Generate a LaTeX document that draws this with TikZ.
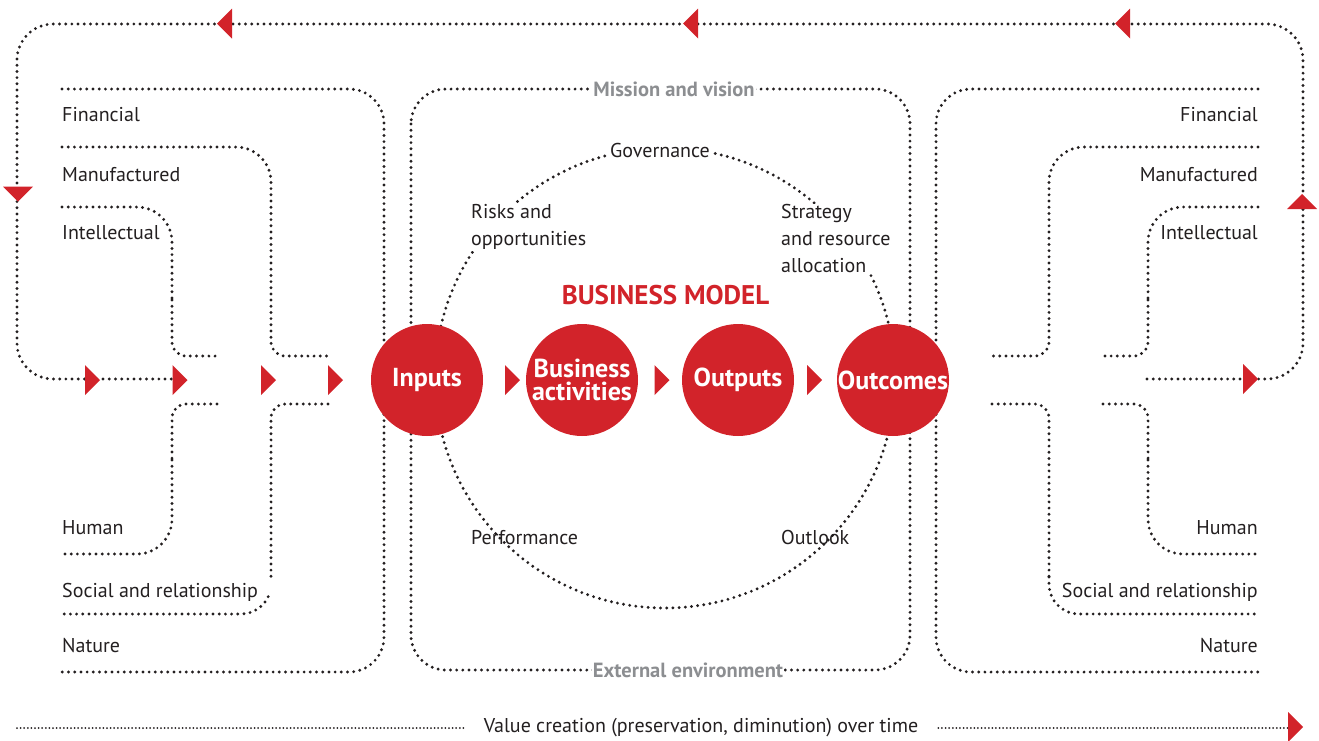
\documentclass[tikz,border=0pt]{standalone}
\usepackage{fontspec}
\setmainfont{PT Sans}
\usetikzlibrary{calc}
\definecolor{brandred}{HTML}{D2232A}
\definecolor{ink}{HTML}{231F20}
\definecolor{mist}{HTML}{8C8E91}

% side strands of the capitals (drawn once per side, mirrored on the right)
\newcommand\capitalstrands{%
  \draw[dots, rounded corners=35] (62,89) -- (384,89) -- (384,672) -- (62,672);
  \draw[dots, rounded corners=35] (62,147) -- (271,147) -- (271,300);
  \draw[dots, rounded corners=14] (271,300) -- (271,356) -- (328,356);
  \draw[dots, rounded corners=14] (328,404) -- (271,404) -- (271,577);
  \draw[dots, rounded corners=35] (62,207) -- (172,207) -- (172,300);
  \draw[dots, rounded corners=14] (172,300) -- (172,356) -- (217,356);
  \draw[dots, rounded corners=14] (217,404) -- (172,404) -- (172,460);
  \draw[dots, rounded corners=35] (172,460) -- (172,554) -- (62,554);
}

\begin{document}
\begin{tikzpicture}[x=1pt, y=-1pt,
  dots/.style={draw=ink, line width=3.2pt, line cap=round, dash pattern=on 0pt off 6.2pt},
  finedots/.style={draw=ink, line width=2pt, line cap=round, dash pattern=on 0pt off 3.6pt},
  stage/.style={circle, fill=brandred, minimum size=112pt, inner sep=0pt, text=white,
    font=\fontsize{26}{23}\selectfont\bfseries, align=center},
  lbl/.style={font=\fontsize{20}{27}\selectfont, text=ink, inner sep=0pt},
  frame/.style={font=\fontsize{20.5}{22}\selectfont\bfseries, text=mist, fill=white, inner xsep=1pt, inner ysep=2pt},
  pics/tri/.style={code={\fill[brandred] (-7.5,-15) -- (7.5,0) -- (-7.5,15) -- cycle;}},
]
\useasboundingbox (0,0) rectangle (1319,740);

% return loop along the top
\coordinate (loopA) at (1147,379);
\coordinate (loopB) at (172,379);
\draw[dots, rounded corners=36] (loopA) -- (1303,379) -- (1303,24) -- (17,24) -- (17,379) -- (loopB);

% capitals, left side
\capitalstrands
\draw[dots] (268.19,596.68) arc[start angle=25, end angle=90, radius=30] -- (62,614);

% capitals, right side
\begin{scope}[xshift=1320pt, xscale=-1]
  \capitalstrands
  \draw[dots, rounded corners=30] (271,577) -- (271,614) -- (62,614);
\end{scope}

% organisation frame and business model ring
\draw[dots, rounded corners=35] (411,89) rectangle (910,670);
\draw[dots] (665,378) circle[radius=230];

\node[frame] (mission) at (674,89.5) {Mission and vision};
\node[frame] (external) at (688,670.5) {External environment};

\node[lbl, fill=white, inner sep=2pt] (gov) at (660,150) {Governance};
\node[lbl, fill=white, inner sep=1pt, align=left, anchor=north west] (risks) at (470,203.5) {Risks and\\opportunities};
\node[lbl, fill=white, inner sep=1pt, align=left, anchor=north west] (strategy) at (780,203.5) {Strategy\\and resource\\allocation};
\node[lbl, anchor=base west] (perf) at (471,544) {Performance};
\node[lbl, anchor=base west] (outlook) at (781,544) {Outlook};

\node[font=\fontsize{27}{27}\selectfont\bfseries, text=brandred, anchor=base, inner sep=0pt] (bm) at (665.5,304) {BUSINESS MODEL};

% value chain
\node[stage] (inputs) at (427,380) {Inputs};
\node[stage] (activities) at (582,380) {Business\\activities};
\node[stage] (outputs) at (738,380) {Outputs};
\node[stage] (outcomes) at (893,380) {Outcomes};

% capital labels
\foreach \t/\y/\n in {Financial/121/fl, Manufactured/181/ml, Intellectual/239/il, Human/534/hl, Social and relationship/597/sl, Nature/652/nl}{
  \node[lbl, anchor=base west] (\n) at (62,\y) {\t};
  \node[lbl, anchor=base east] (\n r) at (1258,\y) {\t};
}

% direction markers
\pic at (92.5,380) {tri};
\pic at (180,380) {tri};
\pic at (268.5,380) {tri};
\pic at (335.5,380) {tri};
\pic at (512.5,380) {tri};
\pic at (662,380) {tri};
\pic at (814.5,380) {tri};
\pic at (1250.5,379) {tri};
\pic[rotate=180] at (224.5,23.5) {tri};
\pic[rotate=180] at (690.5,23.5) {tri};
\pic[rotate=180] at (1122.5,23.5) {tri};
\pic[rotate=-90] at (18,194) {tri};
\pic[rotate=90] at (1302,201.5) {tri};

% value creation over time
\node[font=\fontsize{20}{22}\selectfont, text=ink, inner sep=0pt] (time) at (701,728) {Value creation (preservation, diminution) over time};
\coordinate (tstart) at (17,728);
\coordinate (tend) at (1288,728);
\draw[finedots] (tstart) -- ($(time.west)+(-20,0)$);
\draw[finedots] ($(time.east)+(20,0)$) -- (tend);
\pic at (1295.5,727) {tri};
\end{tikzpicture}
\end{document}
